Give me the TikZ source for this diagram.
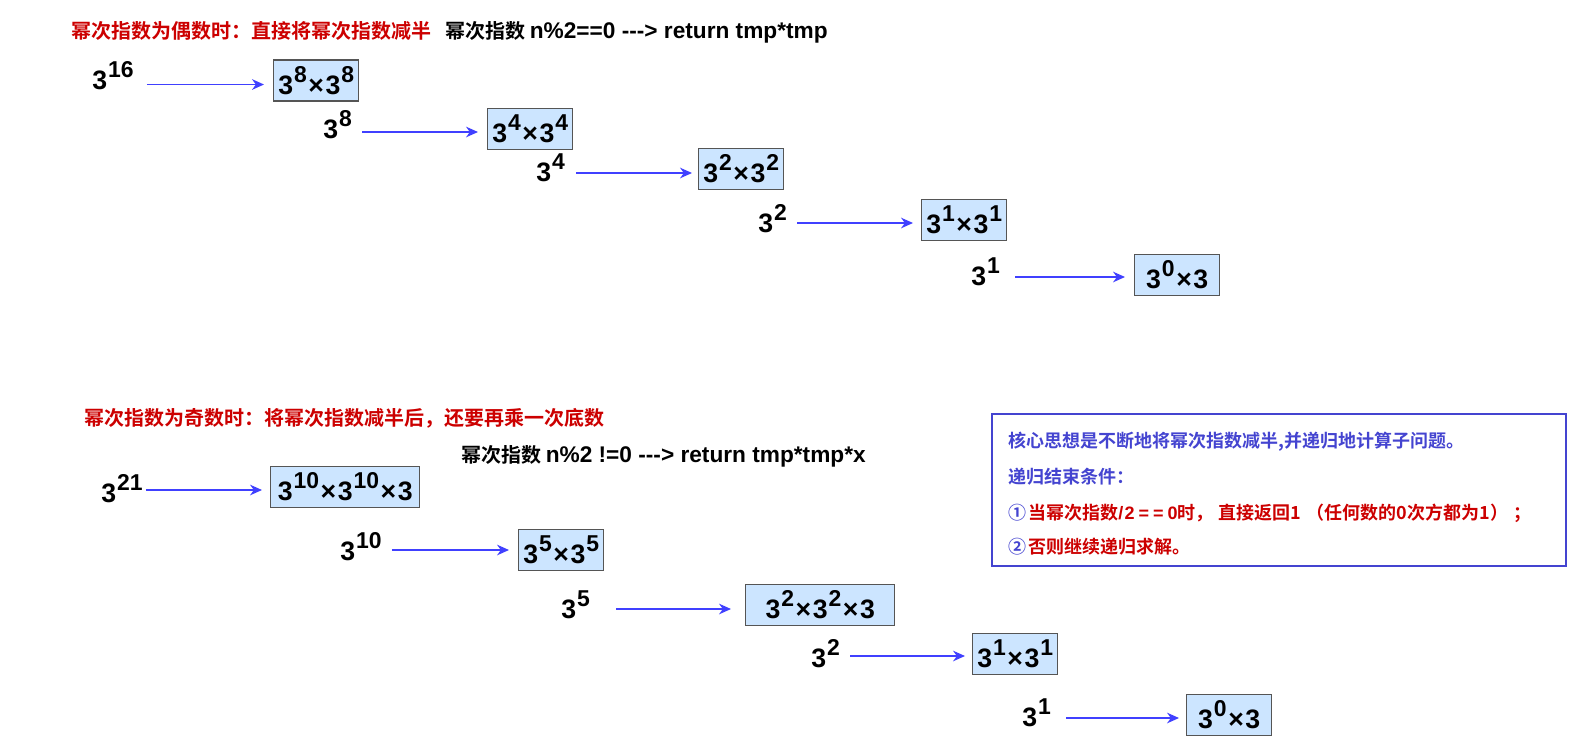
\documentclass[tikz,border=0pt]{standalone}
\usepackage{fontspec}
\setmainfont{Liberation Sans}
\newfontfamily\lat{Liberation Sans}
\newfontfamily\cjk{Noto Sans CJK SC}[BoldFont={Noto Sans CJK SC Bold}]
\usetikzlibrary{calc,arrows.meta}
\definecolor{oddred}{RGB}{204,0,0}
\definecolor{notebl}{RGB}{68,68,208}
\definecolor{arrowbl}{RGB}{64,64,255}
\definecolor{cellbl}{RGB}{204,229,255}
\definecolor{cellgr}{RGB}{85,85,85}
\newcommand\pw[2]{#1\kern.7pt\raisebox{.45em}{\scalebox{.86}{#2}}}
\newcommand\by{\kern1.2pt×\kern1.2pt}
\tikzset{num/.style = {font=\fontsize{20}{22}\selectfont\bfseries, inner sep = 0}}
\tikzset{cell/.style = {num, draw = cellgr, line width = 1.1pt, fill = cellbl, inner xsep = 2pt,
                        minimum height = 30.75pt, minimum width = 63.75pt}}
\tikzset{push/.style = {-{Stealth[length=9pt, width=8pt]}, draw = arrowbl, line width = 1pt}}
\tikzset{head/.style = {font=\fontsize{15}{18}\selectfont\bfseries\cjk, inner sep = 0, anchor = base west}}
\tikzset{note/.style = {font=\fontsize{13.5}{16}\selectfont\bfseries\cjk, inner sep = 0, anchor = base west}}

\begin{document}
\begin{tikzpicture}[x=0.75pt, y=-0.75pt]
    \useasboundingbox (0,0) rectangle (1596,747);
    % even exponent
    \node [head, text = oddred] (evtitle) at (71,38) {幂次指数为偶数时：直接将幂次指数减半};
    \node [head] (evrule) at (445,38) {幂次指数 {\lat\fontsize{17}{18}\selectfont n\%2==0 -{}-{}-> return tmp*tmp}};
    \node [num, anchor = base west] (e16) at (92,89) {\pw{3}{16}};
    \node [cell, anchor = west] (e1) at (273,80.5) {\pw{3}{8}\by\pw{3}{8}};
    \node [num, anchor = base west] (e8) at (323,138) {\pw{3}{8}};
    \node [cell, anchor = west] (e2) at (487,129) {\pw{3}{4}\by\pw{3}{4}};
    \node [num, anchor = base west] (e4) at (536,181) {\pw{3}{4}};
    \node [cell, anchor = west] (e3) at (698,169) {\pw{3}{2}\by\pw{3}{2}};
    \node [num, anchor = base west] (e2b) at (758,232) {\pw{3}{2}};
    \node [cell, anchor = west] (e4b) at (921,220) {\pw{3}{1}\by\pw{3}{1}};
    \node [num, anchor = base west] (e1b) at (971,285) {\pw{3}{1}};
    \node [cell, anchor = west] (e5) at (1134,275) {\pw{3}{0}\by 3};
    \draw [push] ($(e16.east |- e1.west)+(13,4)$) -- ($(e1.west)+(-9,4)$);
    \draw [push] ($(e8.east |- e2.west)+(10,3)$) -- ($(e2.west)+(-9,3)$);
    \draw [push] ($(e4.east |- e3.west)+(11,4)$) -- ($(e3.west)+(-6,4)$);
    \draw [push] ($(e2b.east |- e4b.west)+(10,3)$) -- ($(e4b.west)+(-8,3)$);
    \draw [push] ($(e1b.east |- e5.west)+(15,2)$) -- ($(e5.west)+(-9,2)$);
    % odd exponent
    \node [head, text = oddred] (odtitle) at (84,425) {幂次指数为奇数时：将幂次指数减半后，还要再乘一次底数};
    \node [head] (odrule) at (461,462) {幂次指数 {\lat\fontsize{17}{18}\selectfont n\%2 !=0 -{}-{}-> return tmp*tmp*x}};
    \node [num, anchor = base west] (o21) at (101,502) {\pw{3}{21}};
    \node [cell, anchor = west, minimum width = 111.75pt] (o1) at (270,487) {\pw{3}{10}\by\pw{3}{10}\by 3};
    \node [num, anchor = base west] (o10) at (340,560) {\pw{3}{10}};
    \node [cell, anchor = west] (o2) at (518,550) {\pw{3}{5}\by\pw{3}{5}};
    \node [num, anchor = base west] (o5) at (561,618) {\pw{3}{5}};
    \node [cell, anchor = west, minimum width = 111.75pt] (o3) at (745,605) {\pw{3}{2}\by\pw{3}{2}\by 3};
    \node [num, anchor = base west] (o2b) at (811,667) {\pw{3}{2}};
    \node [cell, anchor = west] (o4) at (972,654) {\pw{3}{1}\by\pw{3}{1}};
    \node [num, anchor = base west] (o1b) at (1022,726) {\pw{3}{1}};
    \node [cell, anchor = west] (o5b) at (1186,715) {\pw{3}{0}\by 3};
    \draw [push] ($(o21.east |- o1.west)+(3,3)$) -- ($(o1.west)+(-8,3)$);
    \draw [push] ($(o10.east |- o2.west)+(10,0)$) -- ($(o2.west)+(-9,0)$);
    \draw [push] ($(o5.east |- o3.west)+(26,4)$) -- ($(o3.west)+(-14,4)$);
    \draw [push] ($(o2b.east |- o4.west)+(10,2)$) -- ($(o4.west)+(-7,2)$);
    \draw [push] ($(o1b.east |- o5b.west)+(15,3)$) -- ($(o5b.west)+(-7,3)$);
    % summary
    \draw [notebl, line width = 2pt] (992,414) rectangle (1566,566);
    \node [note, text = notebl] (idea) at (1008,447) {核心思想是不断地将幂次指数减半,并递归地计算子问题。};
    \node [note, text = notebl] (stop) at (1008,483) {递归结束条件：};
    \node [note, text = oddred] (case1) at (1008,519) {\textcolor{notebl}{①}\kern1.5pt当幂次指数{\lat /\kern1pt2\kern3pt=\kern3pt=\kern3pt0}时，\kern4pt直接返回1\kern4pt（任何数的0次方都为1）\kern4pt；};
    \node [note, text = oddred] (case2) at (1008,553) {\textcolor{notebl}{②}\kern1.5pt否则继续递归求解。};
\end{tikzpicture}
\end{document}
